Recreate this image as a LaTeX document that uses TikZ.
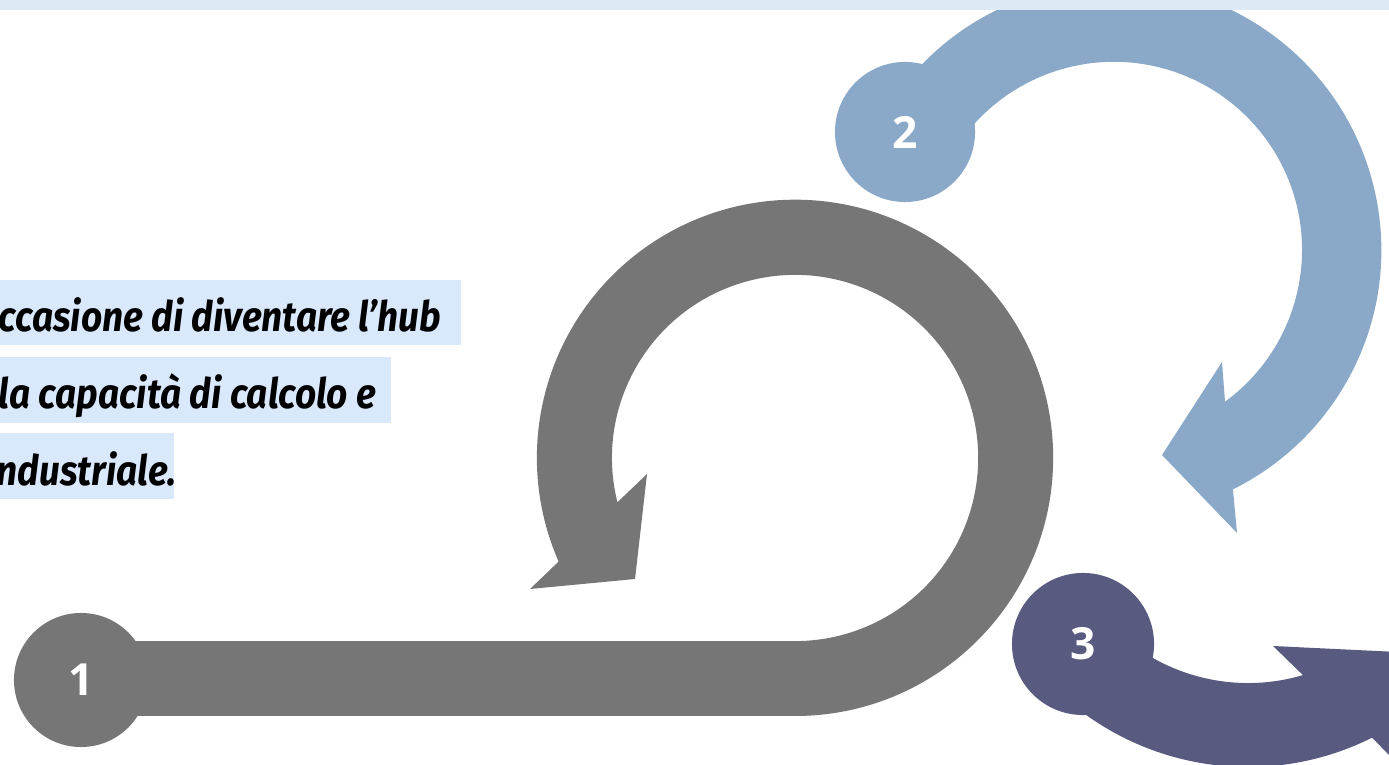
\documentclass[tikz,border=0pt]{standalone}
\usepackage{fontspec}
\newfontfamily\txtfont[FakeStretch=0.885]{Fira Sans}
\newfontfamily\numfont{Open Sans}
\definecolor{grayA}{HTML}{767676}
\definecolor{blueA}{HTML}{8AA9C8}
\definecolor{purpA}{HTML}{585A80}
\definecolor{bandA}{HTML}{DDEAF6}
\definecolor{hiA}{HTML}{DAE8FC}
\tikzset{
  numcirc/.style={circle, inner sep=0pt, text=white, font=\numfont\bfseries\fontsize{12.6}{14}\selectfont},
  hibox/.style={fill=hiA, draw=none},
  txtline/.style={anchor=base west, inner sep=0pt, font=\txtfont\bfseries\itshape\fontsize{11.9}{14}\selectfont}
}
\begin{document}
\begin{tikzpicture}[x=0.01cm,y=0.01cm]
\useasboundingbox (0,0) rectangle (1389,-765);
\clip (0,0) rectangle (1389,-765);
\fill[white] (0,0) rectangle (1389,-765);
% text highlights
\fill[hibox] (0,-280) rectangle (461,-345);
\fill[hibox] (0,-357) rectangle (391,-423);
\fill[hibox] (0,-433) rectangle (174,-499);
\node[txtline] (t1) at (-2,-332) {ccasione di diventare l’hub};
\node[txtline] (t2) at (-2,-409) {la capacità di calcolo e};
\node[txtline] (t3) at (-4,-486) {ndustriale.};
% gray arrow
\fill[grayA] (80,-716) -- (795,-716)
  arc[start angle=-90, end angle=203.7, radius=2.58cm]
  -- (530,-589) -- (635,-579) -- (647,-474) -- (617.4,-502.3)
  arc[start angle=194, end angle=-90, radius=1.83cm]
  -- (80,-641) -- cycle;
\node[numcirc, fill=grayA, minimum size=1.34cm] (n1) at (81,-680) {1};
% blue arrow
\fill[blueA] (882.8,-116.5)
  arc[start angle=150, end angle=-63.6, radius=2.67cm]
  -- (1237,-533) -- (1162,-455) -- (1222,-362) -- (1225,-401.7)
  arc[start angle=-53.8, end angle=150, radius=1.88cm] -- cycle;
\node[numcirc, fill=blueA, minimum size=1.40cm] (n2) at (905,-132) {2};
% purple arrow
\fill[purpA] (1111.5,-626.5)
  arc[start angle=-135, end angle=-73.5, radius=1.93cm]
  -- (1273,-646) -- (1460,-655) -- (1460,-800) -- (1405,-771) -- (1372,-737.7)
  arc[start angle=-63.4, end angle=-135, radius=2.77cm] -- cycle;
\node[numcirc, fill=purpA, minimum size=1.42cm] (n3) at (1083,-644) {3};
% top band
\fill[bandA] (0,0) rectangle (1389,-10.5);
\end{tikzpicture}
\end{document}
